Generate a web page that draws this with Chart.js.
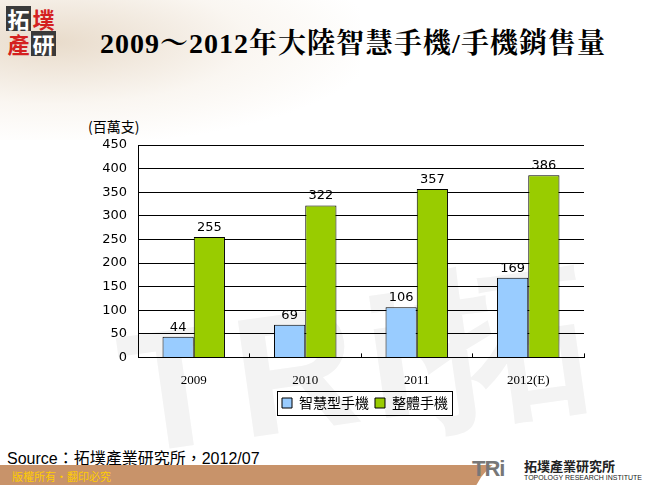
<!DOCTYPE html>
<html>
<head>
<meta charset="utf-8">
<script src="https://cdn.jsdelivr.net/npm/chart.js@4.4.0/dist/chart.umd.min.js"></script>
<style>
  body { margin: 0; width: 650px; height: 485px; overflow: hidden; background: #fff; position: relative; font-family: "Liberation Sans", sans-serif; }
  #map { position: absolute; left: 0; top: 0; width: 360px; height: 140px;
    background: radial-gradient(ellipse at 15% 30%, rgba(214,190,160,0.55), rgba(235,220,200,0.25) 45%, rgba(255,255,255,0) 75%); }
  #mark { position: absolute; left: 120px; top: 250px; font-family: "Liberation Sans", sans-serif; font-weight: bold; font-size: 170px; color: #f3f3f3; transform: rotate(-8deg); letter-spacing: 10px; white-space: nowrap; }
  #logo { position: absolute; left: 6px; top: 6px; width: 56px; height: 50px; font-family: "Noto Sans CJK TC", sans-serif; font-weight: bold; font-size: 22px; line-height: 25px; }
  #logo span { display: inline-block; width: 25px; text-align: center; }
  .dk { background: #3a3a3a; color: #fff; }
  .rd { color: #d42020; }
  #title { position: absolute; left: 0; width: 706px; top: 21px; text-align: center; font-family: "Liberation Serif", "Noto Serif CJK TC", serif; font-weight: bold; font-size: 28px; letter-spacing: 1px; color: #000; }
  #unit { position: absolute; left: 88px; top: 116px; font-family: "Noto Sans CJK TC", sans-serif; font-size: 14px; }
  #source { position: absolute; left: 7px; top: 445px; font-family: "Liberation Sans", "Noto Sans CJK TC", sans-serif; font-size: 16px; }
  #footer { position: absolute; left: 0; top: 465px; width: 650px; height: 20px; background: #c8936a; }
  #footer span { position: absolute; left: 12px; top: 5px; font-family: "Noto Sans CJK TC", sans-serif; font-size: 11px; line-height: 12px; color: #ffcc00; }
  #wedge { position: absolute; left: 470px; top: 452px; width: 260px; height: 60px; background: #fff; border-radius: 60px 0 0 0; }
  #tri { position: absolute; left: 472px; top: 456px; font-family: "Liberation Sans", sans-serif; }
  #tri b { font-size: 22px; color: #777; letter-spacing: -1px; position: absolute; left: 0; top: 0; }
  #tri i { font-style: normal; position: absolute; left: 52px; top: 0; font-size: 13px; font-family: "Noto Sans CJK TC", sans-serif; color: #222; white-space: nowrap; font-weight: bold; }
  #tri s { text-decoration: none; position: absolute; left: 52px; top: 18px; font-size: 7px; color: #222; white-space: nowrap; }
  #wrap { position: absolute; left: 0; top: 0; width: 650px; height: 485px; }
</style>
</head>
<body>
<div id="map"></div>
<div id="mark">TRi拓</div>
<div id="logo"><span class="dk">拓</span><span class="rd">墣</span><span class="rd">產</span><span class="dk">研</span></div>
<div id="title">2009～2012年大陸智慧手機/手機銷售量</div>
<div id="unit">(百萬支)</div>
<div id="source">Source：拓墣產業研究所，2012/07</div>
<div id="footer"><span>版權所有•翻印必究</span></div>
<div id="wedge"></div>
<div id="tri"><b>TRi</b><i>拓墣產業研究所</i><s>TOPOLOGY RESEARCH INSTITUTE</s></div>
<div id="wrap"><canvas id="chart"></canvas></div>
<script>
const years = ["2009", "2010", "2011", "2012(E)"];
const smartPhones = [44, 69, 106, 169];
const allPhones = [255, 322, 357, 386];
const seriesNames = ["智慧型手機", "整體手機"];

// numbers above the bars
const barLabels = {
  id: "barLabels",
  afterDatasetsDraw(chart) {
    const ctx = chart.ctx;
    ctx.save();
    ctx.font = "13px 'DejaVu Sans', sans-serif";
    ctx.fillStyle = "#000";
    ctx.textAlign = "center";
    ctx.textBaseline = "bottom";
    chart.data.datasets.forEach((ds, i) => {
      chart.getDatasetMeta(i).data.forEach((bar, j) => {
        ctx.fillText(ds.data[j], bar.x, bar.y - 3);
      });
    });
    ctx.restore();
  }
};

// move the legend to where the original has it, and frame it
const legendBox = {
  id: "legendBox",
  afterUpdate(chart) {
    const l = chart.legend;
    if (!l || !l.legendHitBoxes.length) return;
    const h0 = l.legendHitBoxes[0];
    const dx = 282 - h0.left;
    const dy = 403 - (h0.top + h0.height / 2);
    l.left += dx; l.right += dx;
    l.top += dy; l.bottom += dy;
    l.legendHitBoxes.forEach(b => { b.left += dx; b.top += dy; });
  },
  afterDraw(chart) {
    const l = chart.legend;
    const boxes = l.legendHitBoxes;
    const first = boxes[0], last = boxes[boxes.length - 1];
    const ctx = chart.ctx;
    const x1 = Math.round(first.left - 5) + 0.5;
    const x2 = Math.round(last.left + last.width + 4) + 0.5;
    const yc = first.top + first.height / 2;
    ctx.save();
    ctx.strokeStyle = "#000";
    ctx.lineWidth = 1;
    ctx.strokeRect(x1, Math.round(yc - 12) + 0.5, x2 - x1, 24);
    ctx.restore();
  }
};

new Chart(document.getElementById("chart"), {
  type: "bar",
  data: {
    labels: years,
    datasets: [{
      label: seriesNames[0],
      data: smartPhones,
      backgroundColor: "#99ccff",
      borderColor: "#000",
      borderWidth: 1,
      barPercentage: 1,
      categoryPercentage: 0.56
    }, {
      label: seriesNames[1],
      data: allPhones,
      backgroundColor: "#99cc00",
      borderColor: "#000",
      borderWidth: 1,
      barPercentage: 1,
      categoryPercentage: 0.56
    }]
  },
  options: {
    responsive: true,
    maintainAspectRatio: false,
    animation: false,
    layout: { padding: { left: 96, right: 66, top: 145, bottom: 48 } },
    plugins: {
      legend: {
        position: "bottom",
        labels: {
          boxWidth: 10,
          boxHeight: 10,
          padding: 6,
          color: "#000",
          font: { size: 14, family: "'Noto Sans CJK TC', sans-serif" },
          generateLabels(chart) {
            return chart.data.datasets.map((ds, i) => ({
              text: ds.label,
              fillStyle: ds.backgroundColor,
              strokeStyle: "#000",
              lineWidth: 1,
              datasetIndex: i
            }));
          }
        }
      },
      tooltip: { enabled: false }
    },
    scales: {
      x: {
        border: { color: "#000", width: 1 },
        grid: { display: true, drawOnChartArea: false, offset: true, color: "#000", tickLength: -4 },
        ticks: { color: "#000", padding: 19, font: { size: 13, family: "'Liberation Serif', serif" } }
      },
      y: {
        min: 0,
        max: 450,
        afterFit(scale) { scale.width = 42; },
        border: { color: "#000", width: 1 },
        grid: { color: "#000", drawTicks: false },
        ticks: { stepSize: 50, color: "#000", padding: 11, font: { size: 13, family: "'DejaVu Sans', sans-serif" } }
      }
    }
  },
  plugins: [barLabels, legendBox]
});
</script>
</body>
</html>
